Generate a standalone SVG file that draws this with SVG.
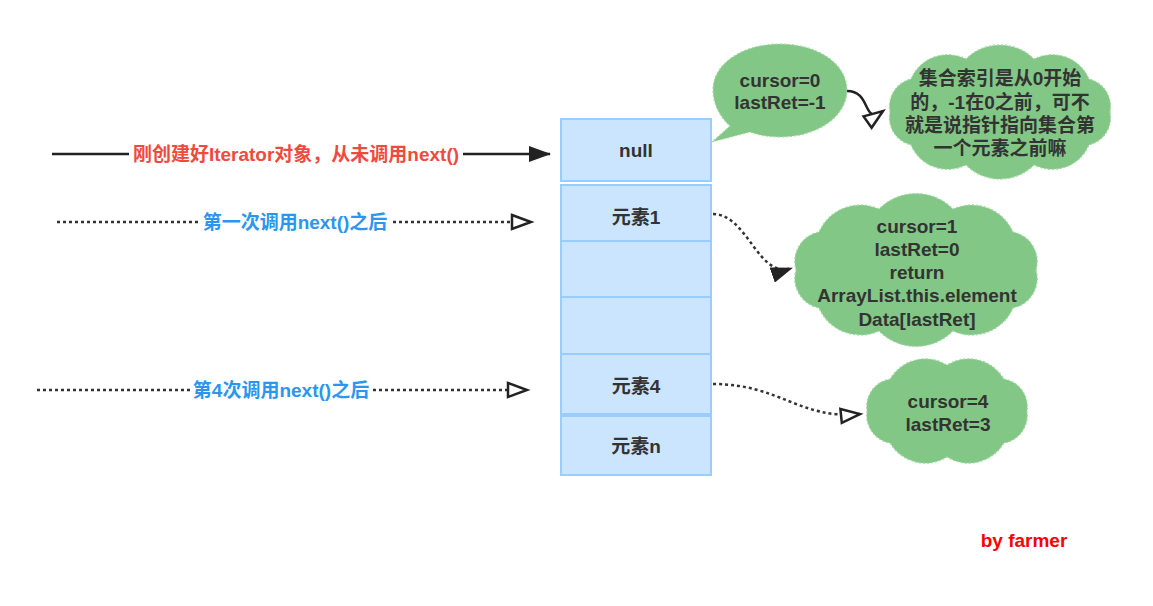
<svg xmlns="http://www.w3.org/2000/svg" width="1153" height="606" viewBox="0 0 1153 606">
<style>
.cell{fill:#cce5ff;stroke:#99ccff;stroke-width:2}
.t{font-family:"Liberation Sans","Noto Sans CJK SC",sans-serif;font-weight:bold;font-size:19px;fill:#333;text-anchor:middle}
.cloud{fill:#82c785;stroke:#a6d9a8;stroke-width:1.2;stroke-dasharray:2 2}
.solid{fill:none;stroke:#222;stroke-width:2.5}
.dot{fill:none;stroke:#333;stroke-width:2.5;stroke-dasharray:3 3}
.lbl{font-family:"Liberation Sans","Noto Sans CJK SC",sans-serif;font-weight:bold;font-size:19px;text-anchor:middle}
</style>
<defs>
<marker id="fill" viewBox="0 0 22 16" refX="21" refY="8" markerWidth="22" markerHeight="16" markerUnits="userSpaceOnUse" orient="auto">
<path d="M0,0 L22,8 L0,16 Z" fill="#222"/>
</marker>
<marker id="open" viewBox="-2 -2 26 20" refX="20" refY="8" markerWidth="26" markerHeight="20" markerUnits="userSpaceOnUse" orient="auto">
<path d="M1,1 L20,8 L1,15 Z" fill="#fff" stroke="#222" stroke-width="2.5" stroke-linejoin="miter"/>
</marker>
</defs>
<rect width="1153" height="606" fill="#fff"/>

<g id="connectors">
<path class="solid" d="M52,154 L550,154" marker-end="url(#fill)"/>
<rect x="129" y="142" width="334" height="26" fill="#fff"/>
<text class="lbl" x="296" y="161" fill="#f04a3e">刚创建好Iterator对象，从未调用next()</text>
<path class="dot" d="M57,222 L531,222" marker-end="url(#open)"/>
<rect x="200" y="210" width="190" height="26" fill="#fff"/>
<text class="lbl" x="295" y="229" fill="#2b96ef">第一次调用next()之后</text>
<path class="dot" d="M37,390 L527,390" marker-end="url(#open)"/>
<rect x="190" y="378" width="182" height="26" fill="#fff"/>
<text class="lbl" x="281" y="397" fill="#2b96ef">第4次调用next()之后</text>
<path class="solid" d="M847,91 C872,91 862,126 883,111" marker-end="url(#open)"/>
<path class="dot" d="M713,214 C748,214 758,280 792,268" marker-end="url(#fill)"/>
<path class="dot" d="M713,384 C780,384 800,420 860,414" marker-end="url(#open)"/>
</g>

<g id="cell-null"><rect class="cell" x="561" y="119" width="150" height="62"/><text class="t" x="636" y="157">null</text></g>
<g id="cell-1"><rect class="cell" x="561" y="185" width="150" height="56"/><text class="t" x="636" y="224">元素1</text></g>
<g id="cell-2"><rect class="cell" x="561" y="241" width="150" height="56"/></g>
<g id="cell-3"><rect class="cell" x="561" y="297" width="150" height="57"/></g>
<g id="cell-4"><rect class="cell" x="561" y="354" width="150" height="60"/><text class="t" x="636" y="393">元素4</text></g>
<g id="cell-n"><rect class="cell" x="561" y="416" width="150" height="59"/><text class="t" x="636" y="453">元素n</text></g>

<g id="callout-0">
<path class="cloud" d="M780,44 C818,44 847,64 847,90 C847,116 818,137 780,137 C768,137 758,135 750,132 L712,142 L730,126 C720,117 713,104 713,90 C713,64 742,44 780,44 Z"/>
<text class="t" x="780" y="87">cursor=0</text>
<text class="t" x="780" y="109">lastRet=-1</text>
</g>

<g id="cloud-note">
<path class="cloud" d="M1110,112 A28,28 0 0 1 1089,145 A40,40 0 0 1 1034,165 A48,48 0 0 1 966,165 A40,40 0 0 1 911,145 A28,28 0 0 1 890,112 A28,28 0 0 1 911,79 A40,40 0 0 1 966,59 A48,48 0 0 1 1034,59 A40,40 0 0 1 1089,79 A28,28 0 0 1 1110,112 Z"/>
<text class="t" x="1000" y="85">集合索引是从0开始</text>
<text class="t" x="1000" y="109">的，-1在0之前，可不</text>
<text class="t" x="1000" y="132">就是说指针指向集合第</text>
<text class="t" x="1000" y="155">一个元素之前嘛</text>
</g>

<g id="cloud-1">
<path class="cloud" d="M1036,270 A30,30 0 0 1 1013,308 A45,45 0 0 1 953,331 A52,52 0 0 1 879,331 A45,45 0 0 1 819,308 A30,30 0 0 1 796,270 A30,30 0 0 1 819,232 A45,45 0 0 1 879,209 A52,52 0 0 1 953,209 A45,45 0 0 1 1013,232 A30,30 0 0 1 1036,270 Z"/>
<text class="t" x="917" y="233">cursor=1</text>
<text class="t" x="917" y="256">lastRet=0</text>
<text class="t" x="917" y="279">return</text>
<text class="t" x="917" y="302">ArrayList.this.element</text>
<text class="t" x="917" y="326">Data[lastRet]</text>
</g>

<g id="cloud-4">
<path class="cloud" d="M1027,411 A28,28 0 0 1 1004,443 A41,41 0 0 1 947,457 A41,41 0 0 1 890,443 A28,28 0 0 1 867,411 A28,28 0 0 1 890,379 A41,41 0 0 1 947,365 A41,41 0 0 1 1004,379 A28,28 0 0 1 1027,411 Z"/>
<text class="t" x="948" y="408">cursor=4</text>
<text class="t" x="948" y="431">lastRet=3</text>
</g>

<g id="signature"><text class="lbl" x="1024" y="547" fill="#ff0000">by farmer</text></g>
</svg>
